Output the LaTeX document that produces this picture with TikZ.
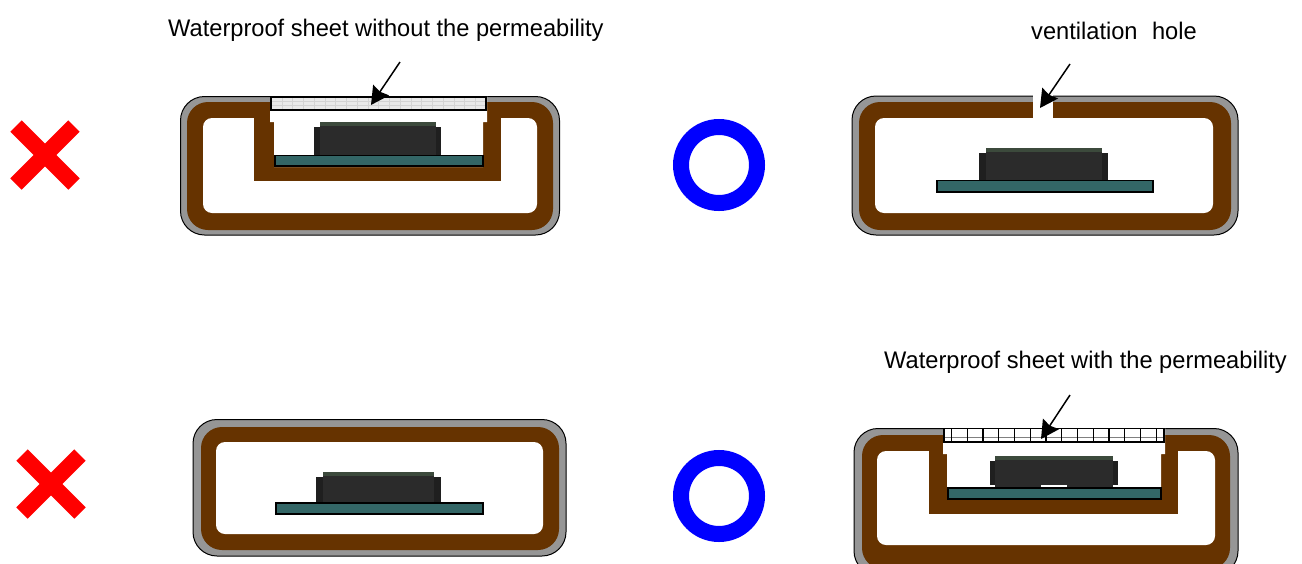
\documentclass[tikz,border=0pt]{standalone}
\usepackage{fontspec}
\setmainfont[FakeStretch=0.985]{Liberation Sans}
\usetikzlibrary{arrows.meta}
\definecolor{brownwall}{HTML}{663300}
\definecolor{greyshell}{HTML}{969696}
\definecolor{tealpcb}{HTML}{336666}
\definecolor{chipdark}{HTML}{2B2B2B}
\definecolor{chiplead}{HTML}{1F1F1F}
\definecolor{chiptop}{HTML}{3C4A3C}
\definecolor{crossred}{HTML}{FF0000}
\definecolor{ringblue}{HTML}{0000FF}
\tikzset{
  shell/.style={fill=greyshell,draw=black,line width=1pt},
  wall/.style={fill=brownwall},
  cavity/.style={fill=white},
  pcb/.style={fill=tealpcb,draw=black,line width=1.2pt},
  chipbody/.style={fill=chipdark},
  chippin/.style={fill=chiplead},
  chipcap/.style={fill=chiptop},
  ringmark/.style={draw=ringblue,line width=16pt},
  crossbar/.style={draw=crossred,line width=16pt},
  pointer/.style={draw=black,line width=1.5pt,-{Stealth[length=18pt,width=19pt,inset=2pt]}},
  label/.style={font=\fontsize{24}{28}\selectfont,inner sep=0pt,anchor=base west,text=black},
}
% #1 left pin x, #2 left body x, #3 right body x, #4 right pin x, #5 top, #6 pin top, #7 bottom
\newcommand{\chipshape}[7]{%
  \fill[chippin] (#1,#6) rectangle (#4,#7);
  \fill[chipbody] (#2,#5) rectangle (#3,#7);
  \fill[chipcap] (#2,#5) rectangle (#3,#5+4);
}
\newcommand{\crossmark}[2]{%
  \draw[crossbar] (#1-29,#2-29) -- (#1+29,#2+29);
  \draw[crossbar] (#1+29,#2-29) -- (#1-29,#2+29);
}
\begin{document}
\begin{tikzpicture}[x=1pt,y=-1pt]
\useasboundingbox (0,0) rectangle (1302,563);
\clip (0,0) rectangle (1302,563);

% --- panel A: top left
\draw[shell,rounded corners=24pt] (180.5,96.5) rectangle (559.5,235);
\fill[wall,rounded corners=21pt] (187,102) rectangle (553,230);
\fill[cavity,rounded corners=9pt] (203,118) rectangle (537,213);
\fill[wall] (254,102) rectangle (501,181);
\fill[cavity] (270,96) -- (487,96) -- (487,122) -- (483,122) -- (483,167) -- (274,167) -- (274,122) -- (270,122) -- cycle;
\draw[fill=gray!18,draw=black,line width=1.2pt] (271,97) rectangle (486,110);
\draw[gray!35,line width=0.5pt,shift={(271,97)},xstep=10.75pt,ystep=4.33pt] (0,0) grid (215,13);
\draw[black,line width=1.2pt] (271,97) rectangle (486,110);
\chipshape{314}{320}{436}{441}{122}{127}{155}
\draw[pcb] (275,155.5) rectangle (483,166);

% --- panel B: top right
\draw[shell,rounded corners=24pt] (852,96) rectangle (1238,235);
\fill[wall,rounded corners=21pt] (859,102) rectangle (1231,230);
\fill[cavity,rounded corners=9pt] (875,118) rectangle (1213,213);
\fill[white] (1033,90) rectangle (1053,119);
\chipshape{979}{986}{1102}{1108}{148}{153}{180}
\draw[pcb] (937,180.5) rectangle (1153,192);

% --- panel C: bottom left
\draw[shell,rounded corners=24pt] (193,419.5) rectangle (566,556);
\fill[wall,rounded corners=21pt] (201,427) rectangle (559,550);
\fill[cavity,rounded corners=9pt] (216,442) rectangle (543,534);
\chipshape{316}{323}{434}{441}{472}{477}{503}
\draw[pcb] (276,503) rectangle (483,514);

% --- panel D: bottom right
\draw[shell,rounded corners=24pt] (854,428.5) rectangle (1238,575);
\fill[wall,rounded corners=21pt] (862,435) rectangle (1230,569);
\fill[cavity,rounded corners=9pt] (877,451) rectangle (1215,545);
\fill[wall] (929,435) rectangle (1178,514);
\fill[cavity] (943,428) -- (1165,428) -- (1165,454) -- (1161,454) -- (1161,499) -- (947,499) -- (947,454) -- (943,454) -- cycle;
\draw[fill=white,draw=black,line width=1.2pt] (944,428.5) rectangle (1164,442);
\draw[gray,line width=0.9pt] (944,437) -- (1164,437);
\foreach \k in {0,...,13} \draw[black,line width=1.2pt] ({951.5+15.75*\k},428.5) -- ({951.5+15.75*\k},442);
\draw[black,line width=1.2pt] (944,428.5) rectangle (1164,442);
\chipshape{990}{995}{1113}{1118}{456}{461}{487}
\fill[white] (990,485) rectangle (995,488);
\fill[white] (1113,485) rectangle (1118,488);
\fill[white] (1041,485) rectangle (1067,487.5);
\draw[pcb] (948,488) rectangle (1161,499);

% --- verdict marks
\crossmark{45}{155}
\crossmark{51}{484}
\node[circle,ringmark,minimum size=76pt,inner sep=0pt] (ringtop) at (719,165) {};
\node[circle,ringmark,minimum size=76pt,inner sep=0pt] (ringbot) at (719,496) {};

% --- labels
\node[label] (lblA) at (168,36) {Waterproof sheet without the permeability};
\node[label] (lblB) at (1031,39) {ventilation\hspace{0.6em}hole};
\node[label] (lblD) at (884,368) {Waterproof sheet with the permeability};

% --- pointers
\coordinate (aStart) at (400,62);   \coordinate (aEnd) at (371,105);
\coordinate (bStart) at (1070,64);  \coordinate (bEnd) at (1040,108);
\coordinate (dStart) at (1070,395); \coordinate (dEnd) at (1041,439);
\draw[pointer] (aStart) -- (aEnd);
\draw[pointer] (bStart) -- (bEnd);
\draw[pointer] (dStart) -- (dEnd);
\end{tikzpicture}
\end{document}
